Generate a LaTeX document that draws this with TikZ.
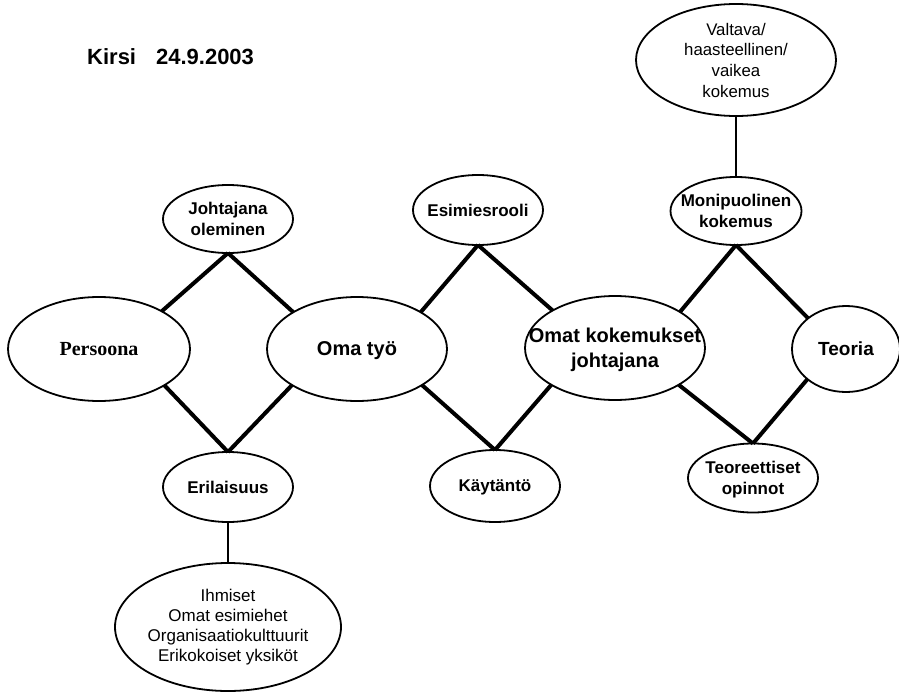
\documentclass[tikz,border=0pt]{standalone}
\usepackage{fontspec}
\setmainfont{Liberation Sans}
\newfontfamily\timesfont{Liberation Serif}
\usetikzlibrary{shapes.geometric}
\begin{document}
\begin{tikzpicture}[x=1pt,y=-1pt,
  bubble/.style={ellipse, draw, line width=1.8pt, inner sep=0pt, outer sep=0pt, fill=white},
  txt/.style={align=center, inner sep=0pt, text depth=0pt},
  small/.style={txt, font=\bfseries\fontsize{17}{21.5}\selectfont},
  big/.style={txt, font=\bfseries\fontsize{20}{25}\selectfont},
  plain/.style={txt, font=\fontsize{16.8}{20.7}\selectfont},
  diam/.style={line width=4pt},
  link/.style={line width=1.8pt}]
\useasboundingbox (0,0) rectangle (899,693);

% heading
\node[anchor=base west, inner sep=0pt, font=\bfseries\fontsize{22}{26}\selectfont] (title) at (87,65) {Kirsi\hspace{20pt}24.9.2003};

% ellipses
\node[bubble, minimum width=200pt, minimum height=112pt] (valtava) at (736,60) {};
\node[bubble, minimum width=131pt, minimum height=68pt] (monip) at (736,211) {};
\node[bubble, minimum width=130pt, minimum height=68pt] (johtajana) at (228,219) {};
\node[bubble, minimum width=130pt, minimum height=70pt] (esimies) at (478,210) {};
\node[bubble, minimum width=182pt, minimum height=104pt] (persoona) at (99,349) {};
\node[bubble, minimum width=180pt, minimum height=104pt] (omatyo) at (357,349) {};
\node[bubble, minimum width=180pt, minimum height=104pt] (omat) at (615,348) {};
\node[bubble, minimum width=108pt, minimum height=86pt] (teoria) at (846,349) {};
\node[bubble, minimum width=130pt, minimum height=70pt] (erilaisuus) at (228,487) {};
\node[bubble, minimum width=130pt, minimum height=72pt] (kaytanto) at (495,486) {};
\node[bubble, minimum width=130pt, minimum height=69pt] (teoreet) at (753,478) {};
\node[bubble, minimum width=226pt, minimum height=128pt] (ihmiset) at (228,627) {};

% texts
\node[plain] (valtava-t) at (valtava) {Valtava/\\haasteellinen/\\vaikea\\kokemus};
\node[small] (monip-t) at (monip) {Monipuolinen\\kokemus};
\node[small] (johtajana-t) at (johtajana) {Johtajana\\oleminen};
\node[small] (esimies-t) at (esimies) {Esimiesrooli};
\node[big, font=\timesfont\bfseries\fontsize{20}{25}\selectfont] (persoona-t) at (persoona) {Persoona};
\node[big] (omatyo-t) at (omatyo) {Oma työ};
\node[big] (omat-t) at (omat) {Omat kokemukset\\johtajana};
\node[big, font=\bfseries\fontsize{19}{24}\selectfont] (teoria-t) at (teoria) {Teoria};
\node[small] (erilaisuus-t) at (erilaisuus) {Erilaisuus};
\node[small] (kaytanto-t) at (kaytanto) {Käytäntö};
\node[small] (teoreet-t) at (teoreet) {Teoreettiset\\opinnot};
\node[plain, font=\fontsize{17}{20}\selectfont] (ihmiset-t) at ([yshift=2pt]ihmiset.center) {Ihmiset\\Omat esimiehet\\Organisaatiokulttuurit\\Erikokoiset yksiköt};

% thin connectors
\draw[link] (valtava.south) -- (monip.north);
\draw[link] (erilaisuus.south) -- (ihmiset.north);

% diamonds
\draw[diam] (johtajana.south) -- (persoona.31);
\draw[diam] (johtajana.south) -- (omatyo.150);
\draw[diam] (erilaisuus.north) -- (persoona.-29);
\draw[diam] (erilaisuus.north) -- (omatyo.209);
\draw[diam] (esimies.south) -- (omatyo.30);
\draw[diam] (esimies.south) -- (omat.149);
\draw[diam] (kaytanto.north) -- (omatyo.-29);
\draw[diam] (kaytanto.north) -- (omat.210);
\draw[diam] (monip.south) -- (omat.29);
\draw[diam] (monip.south) -- (teoria.141);
\draw[diam] (teoreet.north) -- (omat.-30);
\draw[diam] (teoreet.north) -- (teoria.218);
\end{tikzpicture}
\end{document}
